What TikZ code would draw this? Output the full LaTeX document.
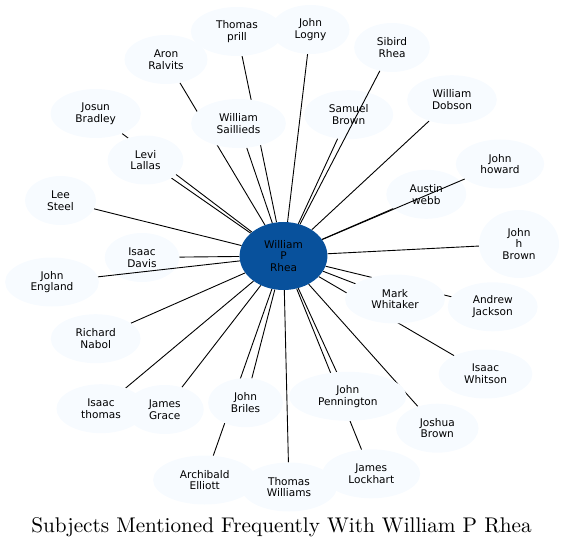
\documentclass[tikz,border=0pt]{standalone}
\usepackage{fontspec}
\newfontfamily\nodefont{DejaVu Sans}
\usetikzlibrary{shapes.geometric, backgrounds}
\definecolor{palefill}{HTML}{F7FBFF}
\definecolor{darkfill}{HTML}{08519C}

\begin{document}
\begin{tikzpicture}[x=1bp, y=-1bp]
    % styles
    \tikzstyle{person} = [ellipse, fill=palefill, inner xsep=11.7bp, inner ysep=0pt, minimum height=49bp, align=center, font=\nodefont\fontsize{10.6}{11.7}\selectfont]
    \tikzstyle{tall} = [person, minimum height=68bp]
    \tikzstyle{hub} = [tall, fill=darkfill]
    \tikzstyle{link} = [line width=0.9bp, black]

    \useasboundingbox (0,0) rectangle (564,548);

    % nodes
    \node (rhea) [hub] at (283.5,256) {William\\P\\Rhea};
    \node (tprill) [person] at (237,31.5) {Thomas\\prill};
    \node (jlogny) [person] at (310.5,29.5) {John\\Logny};
    \node (aralvits) [person] at (166,59.5) {Aron\\Ralvits};
    \node (srhea) [person] at (392,47.5) {Sibird\\Rhea};
    \node (jbradley) [person] at (95.7,113.5) {Josun\\Bradley};
    \node (wsaillieds) [person] at (238.5,123.5) {William\\Saillieds};
    \node (sbrown) [person] at (348.7,114.7) {Samuel\\Brown};
    \node (wdobson) [person] at (452,99.7) {William\\Dobson};
    \node (llallas) [person] at (145.5,160) {Levi\\Lallas};
    \node (jhoward) [person] at (500,164) {John\\howard};
    \node (awebb) [person] at (426.3,194.3) {Austin\\webb};
    \node (lsteel) [person] at (60.5,200.5) {Lee\\Steel};
    \node (jhbrown) [tall] at (519,244) {John\\h\\Brown};
    \node (idavis) [person] at (142,257.5) {Isaac\\Davis};
    \node (jengland) [person] at (52,282) {John\\England};
    \node (mwhitaker) [person] at (395,299) {Mark\\Whitaker};
    \node (ajackson) [person] at (492.7,306.8) {Andrew\\Jackson};
    \node (rnabol) [person] at (95.7,338.7) {Richard\\Nabol};
    \node (iwhitson) [person] at (485.5,374) {Isaac\\Whitson};
    \node (ithomas) [person] at (101,408.7) {Isaac\\thomas};
    \node (jgrace) [person] at (164.7,409.5) {James\\Grace};
    \node (jbriles) [person] at (245.5,402.7) {John\\Briles};
    \node (jpennington) [person] at (347.8,396.3) {John\\Pennington};
    \node (jbrown) [person] at (437.3,428.2) {Joshua\\Brown};
    \node (twilliams) [person] at (289,487) {Thomas\\Williams};
    \node (aelliott) [person] at (204.7,480) {Archibald\\Elliott};
    \node (jlockhart) [person] at (371.3,473.8) {James\\Lockhart};

    % title
    \node (title) [anchor=base, inner sep=0pt] at (281.5,532) {\scalebox{2.13}{\fontsize{10}{12}\selectfont Subjects Mentioned Frequently With William P Rhea}};

    % lines behind the nodes
    \begin{scope}[on background layer]
    \draw [link] (rhea) -- (tprill);
    \draw [link] (rhea) -- (jlogny);
    \draw [link] (rhea) -- (aralvits);
    \draw [link] (rhea) -- (jbradley);
    \draw [link] (rhea) -- (wsaillieds);
    \draw [link] (rhea) -- (sbrown);
    \draw [link] (rhea) -- (wdobson);
    \draw [link] (rhea) -- (llallas);
    \draw [link] (rhea) -- (awebb);
    \draw [link] (rhea) -- (lsteel);
    \draw [link] (rhea) -- (jhbrown);
    \draw [link] (rhea) -- (idavis);
    \draw [link] (rhea) -- (mwhitaker);
    \draw [link] (rhea) -- (ajackson);
    \draw [link] (rhea) -- (rnabol);
    \draw [link] (rhea) -- (iwhitson);
    \draw [link] (rhea) -- (ithomas);
    \draw [link] (rhea) -- (jgrace);
    \draw [link] (rhea) -- (jbriles);
    \draw [link] (rhea) -- (jpennington);
    \draw [link] (rhea) -- (jbrown);
    \draw [link] (rhea) -- (aelliott);
    \draw [link] (rhea) -- (twilliams);
    \draw [link] (rhea) -- (jlockhart);
    \end{scope}

    % lines over the nodes
    \draw [link] (rhea) -- (srhea);
    \draw [link] (rhea) -- (jhoward);
    \draw [link] (rhea) -- (jengland);

\end{tikzpicture}
\end{document}
